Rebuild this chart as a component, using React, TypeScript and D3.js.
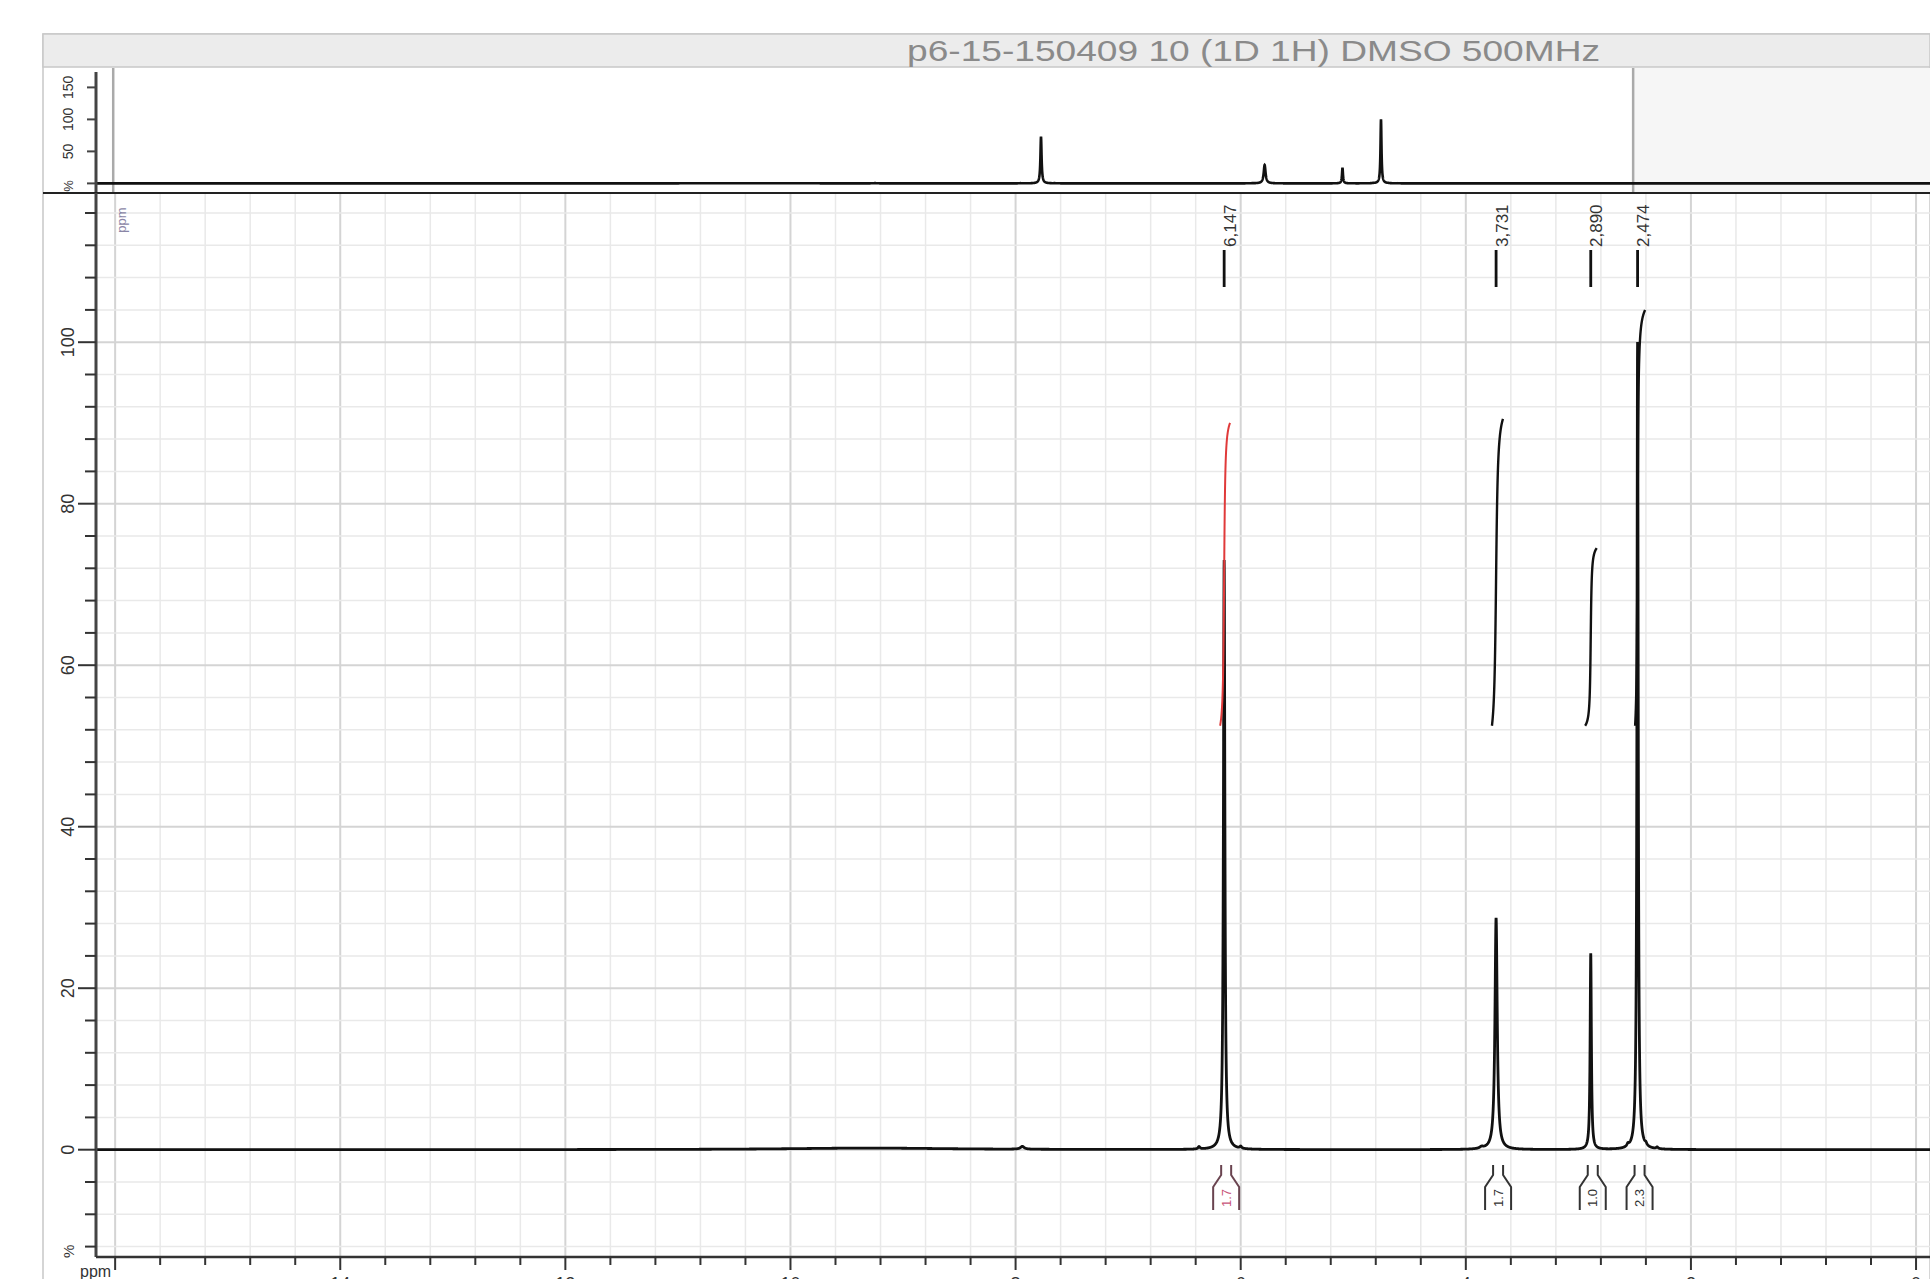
import React from 'react';
import * as d3 from 'd3';

const TITLE = 'p6-15-150409 10 (1D 1H) DMSO 500MHz';

// main peaks: chemical shift (ppm), height (%), half width (ppm)
const peakPpm = [6.147, 3.731, 2.89, 2.474];
const peakHeight = [73, 28.7, 24.3, 100];
const peakWidth = [0.0075, 0.012, 0.0065, 0.0065];
const peakLabels = ['6,147', '3,731', '2,890', '2,474'];

// small baseline features
const minorPpm = [9.3, 7.94, 6.37, 6.0, 3.86, 2.56, 2.4, 2.3];
const minorHeight = [0.2, 0.35, 0.3, 0.25, 0.2, 0.3, 0.25, 0.2];
const minorWidth = [0.9, 0.02, 0.01, 0.01, 0.02, 0.01, 0.01, 0.01];

// integrals
const intFrom = [6.183, 3.768, 2.94, 2.496];
const intTo = [6.095, 3.67, 2.837, 2.407];
const intLow = [52.5, 52.5, 52.5, 52.5];
const intHigh = [90, 90.5, 74.5, 104];
const intLabels = ['1.7', '1.7', '1.0', '2.3'];
const intColors = ['#e03a3a', '#111111', '#111111', '#111111'];
const intLabelColors = ['#c8557a', '#333333', '#333333', '#333333'];

const yTicksMain = [0, 20, 40, 60, 80, 100];
const xTickLabels = [14, 12, 10, 8, 6, 4, 2, 0];
const yTicksTop = [50, 100, 150];

const W = 1930;
const H = 1279;

function spectrum(p: number): number {
  let v = 0;
  for (let i = 0; i < peakPpm.length; i++) {
    const d = (p - peakPpm[i]) / peakWidth[i];
    v += peakHeight[i] / (1 + d * d);
  }
  for (let i = 0; i < minorPpm.length; i++) {
    const d = (p - minorPpm[i]) / minorWidth[i];
    v += minorHeight[i] / (1 + d * d);
  }
  return v;
}

export default function App() {
  // main panel geometry
  const left = 96;
  const right = W;
  const mainTop = 193;
  const mainBottom = 1257;
  const x = d3.scaleLinear().domain([16.17, -0.124]).range([left, right]);
  const y = d3.scaleLinear().domain([0, 100]).range([1149.7, 342.2]);

  // overview panel
  const xTop = d3.scaleLinear().domain([0, 6.147]).range([1610, 1041]);
  const yTop = d3.scaleLinear().domain([0, 150]).range([183.4, 87.4]);

  const ppmSamples = d3.range(16.4, -3.6, -0.001);
  const mainSamples = ppmSamples.filter((p) => p <= 16.17 && p >= -0.13);
  const mainLine = d3
    .line<number>()
    .x((p) => x(p))
    .y((p) => y(spectrum(p)));
  const topLine = d3
    .line<number>()
    .x((p) => xTop(p))
    .y((p) => yTop(spectrum(p)));

  const integralPaths = intFrom.map((from, i) => {
    const to = intTo[i];
    const pts = d3.range(from, to - 0.0001, -0.0005);
    let acc = 0;
    const cum = pts.map((p) => {
      acc += spectrum(p);
      return acc;
    });
    const total = cum[cum.length - 1];
    const iy = d3
      .scaleLinear()
      .domain([cum[0], total])
      .range([intLow[i], intHigh[i]]);
    return d3
      .line<number>()
      .x((_, k) => x(pts[k]))
      .y((_, k) => y(iy(cum[k])))(pts) as string;
  });

  const gridX = d3.range(0, 16.01, 0.4).map((v) => Math.round(v * 10) / 10);
  const gridY = d3.range(-12, 117, 4);

  const font = 'Liberation Sans, Arial, sans-serif';
  const selLeft = xTop(16.17);
  const selRight = xTop(-0.25);

  return (
    <svg
      width={W}
      height={H}
      style={{ position: 'absolute', left: 0, top: 0, background: '#fff' }}
      fontFamily={font}
    >
      <defs>
        <clipPath id="mainClip">
          <rect x={left} y={mainTop} width={right - left} height={mainBottom - mainTop} />
        </clipPath>
        <clipPath id="topClip">
          <rect x={left} y={68} width={right - left} height={mainTop - 68} />
        </clipPath>
      </defs>

      {/* outer frame & title bar */}
      <rect x={43} y={34} width={W - 43} height={H} fill="#fff" stroke="#c8c8c8" strokeWidth={1.5} />
      <rect x={43} y={34} width={W - 43} height={33} fill="#ececec" stroke="#c8c8c8" strokeWidth={1.5} />
      <text
        x={907}
        y={61}
        fontSize={29}
        fill="#8a8a8a"
        textLength={693}
        lengthAdjust="spacingAndGlyphs"
      >
        {TITLE}
      </text>

      {/* overview panel */}
      <rect x={selRight} y={68} width={W - selRight} height={mainTop - 68} fill="#f6f6f6" />
      <line x1={selLeft} x2={selLeft} y1={68} y2={mainTop} stroke="#aaaaaa" strokeWidth={2.5} />
      <line x1={selRight} x2={selRight} y1={68} y2={mainTop} stroke="#aaaaaa" strokeWidth={2.5} />
      <g clipPath="url(#topClip)">
        <path d={topLine(ppmSamples) as string} fill="none" stroke="#111" strokeWidth={2.6} />
      </g>
      <line x1={left} x2={left} y1={72} y2={mainTop} stroke="#444" strokeWidth={3} />
      {[0, ...yTicksTop].map((t) => (
        <line key={'tt' + t} x1={left - 9} x2={left} y1={yTop(t)} y2={yTop(t)} stroke="#444" strokeWidth={2} />
      ))}
      {yTicksTop.map((t) => (
        <text
          key={'tl' + t}
          transform={`translate(68,${yTop(t)}) rotate(-90)`}
          textAnchor="middle"
          dominantBaseline="central"
          fontSize={14}
          fill="#333"
        >
          {t}
        </text>
      ))}
      <text
        transform={`translate(68,${yTop(-4)}) rotate(-90)`}
        textAnchor="middle"
        dominantBaseline="central"
        fontSize={13}
        fill="#333"
      >
        %
      </text>

      {/* main panel grid */}
      <g>
        {gridX.map((g) => (
          <line
            key={'gx' + g}
            x1={x(g)}
            x2={x(g)}
            y1={mainTop}
            y2={mainBottom}
            stroke={Math.abs(g % 2) < 1e-6 ? '#d4d4d4' : '#e9e9e9'}
            strokeWidth={Math.abs(g % 2) < 1e-6 ? 2 : 1.5}
          />
        ))}
        {gridY.map((g) => (
          <line
            key={'gy' + g}
            x1={left}
            x2={right}
            y1={y(g)}
            y2={y(g)}
            stroke={g % 20 === 0 ? '#d4d4d4' : '#e9e9e9'}
            strokeWidth={g % 20 === 0 ? 2 : 1.5}
          />
        ))}
      </g>
      <line x1={43} x2={W} y1={mainTop} y2={mainTop} stroke="#222" strokeWidth={2} />

      <text
        transform={`translate(${x(16) + 6},${220}) rotate(-90)`}
        textAnchor="middle"
        dominantBaseline="central"
        fontSize={13}
        fill="#8a86a6"
      >
        ppm
      </text>

      {/* spectrum */}
      <g clipPath="url(#mainClip)">
        <path d={mainLine(mainSamples) as string} fill="none" stroke="#111" strokeWidth={2.8} />
        {integralPaths.map((d, i) => (
          <path key={'int' + i} d={d} fill="none" stroke={intColors[i]} strokeWidth={i === 0 ? 2 : 2.4} />
        ))}
      </g>

      {/* peak labels */}
      {peakPpm.map((p, i) => (
        <g key={'pk' + i}>
          <line x1={x(p)} x2={x(p)} y1={250} y2={287} stroke="#111" strokeWidth={2.8} />
          <text
            transform={`translate(${x(p) + 6},${247}) rotate(-90)`}
            textAnchor="start"
            dominantBaseline="central"
            fontSize={17}
            fill="#333"
          >
            {peakLabels[i]}
          </text>
        </g>
      ))}

      {/* integral brackets */}
      {peakPpm.map((p, i) => {
        const cx = x(p) + 2;
        const col = i === 0 ? '#6a4450' : '#333';
        const d = `M${cx - 5},1165 V1175 L${cx - 13},1187 V1210 M${cx + 5},1165 V1175 L${cx + 13},1187 V1210`;
        return (
          <g key={'br' + i}>
            <path d={d} fill="none" stroke={col} strokeWidth={2} />
            <text
              transform={`translate(${cx},${1198}) rotate(-90)`}
              textAnchor="middle"
              dominantBaseline="central"
              fontSize={13}
              fill={intLabelColors[i]}
            >
              {intLabels[i]}
            </text>
          </g>
        );
      })}

      {/* main y axis */}
      <line x1={left} x2={left} y1={mainTop} y2={mainBottom} stroke="#444" strokeWidth={3} />
      {gridY.map((t) => (
        <line
          key={'yt' + t}
          x1={t % 20 === 0 ? left - 18 : left - 11}
          x2={left}
          y1={y(t)}
          y2={y(t)}
          stroke="#333"
          strokeWidth={2}
        />
      ))}
      {yTicksMain.map((t) => (
        <text
          key={'yl' + t}
          transform={`translate(68,${y(t)}) rotate(-90)`}
          textAnchor="middle"
          dominantBaseline="central"
          fontSize={18}
          fill="#333"
        >
          {t}
        </text>
      ))}
      <text
        transform={`translate(68,${y(-12.6)}) rotate(-90)`}
        textAnchor="middle"
        dominantBaseline="central"
        fontSize={15}
        fill="#333"
      >
        %
      </text>

      {/* main x axis */}
      <line x1={left} x2={right} y1={mainBottom} y2={mainBottom} stroke="#333" strokeWidth={2.5} />
      {gridX.map((t) => (
        <line
          key={'xt' + t}
          x1={x(t)}
          x2={x(t)}
          y1={mainBottom}
          y2={Math.abs(t % 2) < 1e-6 ? mainBottom + 13 : mainBottom + 8}
          stroke="#333"
          strokeWidth={2}
        />
      ))}
      {xTickLabels.map((t) => (
        <text
          key={'xl' + t}
          x={x(t)}
          y={1290}
          textAnchor="middle"
          fontSize={18}
          fill="#333"
        >
          {t}
        </text>
      ))}
      <text x={80} y={1277} fontSize={16} fill="#333">
        ppm
      </text>
    </svg>
  );
}
